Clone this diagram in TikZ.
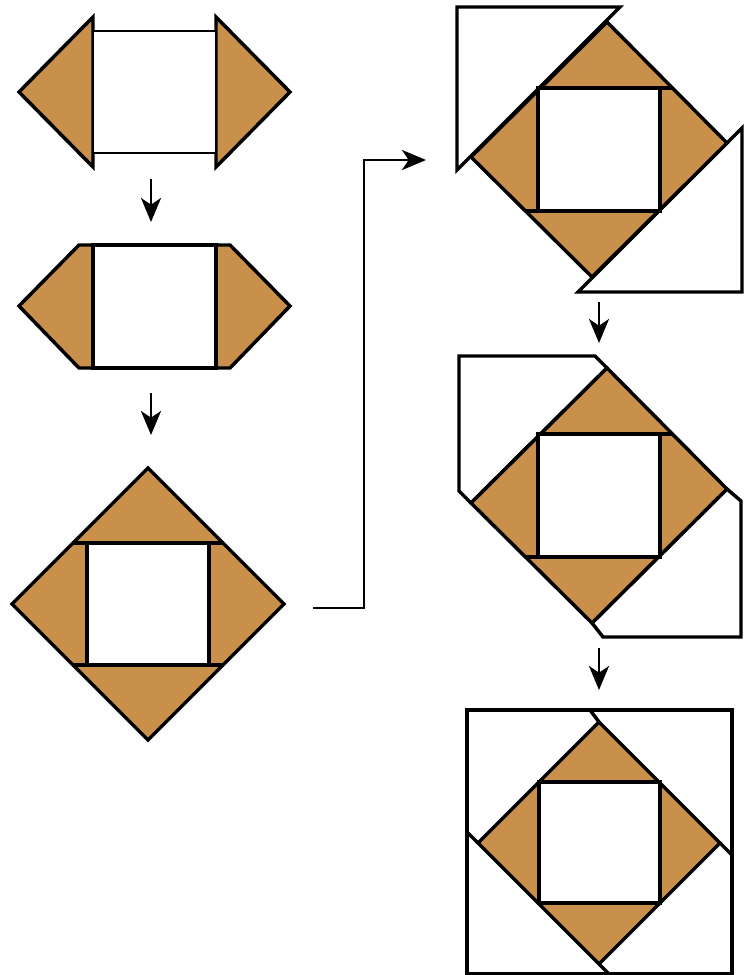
\documentclass[tikz,border=0pt]{standalone}
\usepackage{amsmath}
\usepackage{amssymb}
\usepackage{color}
\usepackage{tikz}
\usetikzlibrary{arrows.meta}
\definecolor{tan}{RGB}{201,144,76}
\tikzset{
  patch/.style={draw=black, line width=2.6pt, line join=miter, fill=tan},
  blank/.style={draw=black, line width=2.6pt, line join=miter, fill=white},
  seam/.style={draw=black, line width=2.6pt},
  steparrow/.style={line width=2pt, -{Stealth[length=18pt,width=15pt,inset=5pt]}}
}
\begin{document}
\begin{tikzpicture}[x=0.75pt,y=-0.75pt]
\useasboundingbox (0,0) rectangle (749,975);
% step 1
\draw [patch] (19,92) -- (93,17) -- (93,167) -- cycle;
\draw [patch] (216,17) -- (290,92) -- (216,167) -- cycle;
\draw [blank, line width=2pt] (93,31) rectangle (216,153);
\coordinate (s1) at (151,179);
\coordinate (e1) at (151,222);
\draw [steparrow] (s1) -- (e1);
% step 2
\draw [patch] (79,245) -- (230,245) -- (290,306) -- (230,368) -- (79,368) -- (19,306) -- cycle;
\draw [blank] (93,245) rectangle (216,368);
\coordinate (s2) at (151,393);
\coordinate (e2) at (151,435);
\draw [steparrow] (s2) -- (e2);
% step 3
\draw [patch] (148,468) -- (284,604) -- (148,740) -- (12,604) -- cycle;
\draw [blank] (87,543) rectangle (209,665);
\draw [seam] (73,543) -- (223,543);
\draw [seam] (73,665) -- (223,665);
\coordinate (s3) at (313,608);
\coordinate (e3) at (426,160);
\draw [steparrow, line join=miter] (s3) -- (364,608) -- (364,160) -- (e3);
% step 4
\draw [blank] (457,7) -- (620,7) -- (457,170) -- cycle;
\draw [blank] (742,128) -- (742,292) -- (578,292) -- cycle;
\draw [patch] (607,22) -- (727,143) -- (592,277) -- (471,157) -- cycle;
\draw [blank] (538,88) rectangle (660,211);
\draw [seam] (538,88) -- (673,88);
\draw [seam] (525,211) -- (660,211);
\coordinate (s4) at (599,302);
\coordinate (e4) at (599,343);
\draw [steparrow] (s4) -- (e4);
% step 5
\draw [blank] (459,356) -- (595,356) -- (607,368) -- (471,503) -- (459,491) -- cycle;
\draw [blank] (727,489) -- (741,501) -- (741,637) -- (603,637) -- (592,623) -- cycle;
\draw [patch] (607,368) -- (727,489) -- (592,623) -- (471,503) -- cycle;
\draw [blank] (538,434) rectangle (660,557);
\draw [seam] (538,434) -- (673,434);
\draw [seam] (525,557) -- (660,557);
\coordinate (s5) at (599,648);
\coordinate (e5) at (599,690);
\draw [steparrow] (s5) -- (e5);
% step 6
\draw [blank] (467,710) rectangle (732,974);
\draw [patch] (599,722) -- (720,843) -- (599,964) -- (478,843) -- cycle;
\draw [blank] (539,782) rectangle (660,903);
\draw [seam] (590,710) -- (599,722);
\draw [seam] (467,832) -- (478,843);
\draw [seam] (720,843) -- (732,855);
\draw [seam] (599,964) -- (609,974);
\end{tikzpicture}
\end{document}
